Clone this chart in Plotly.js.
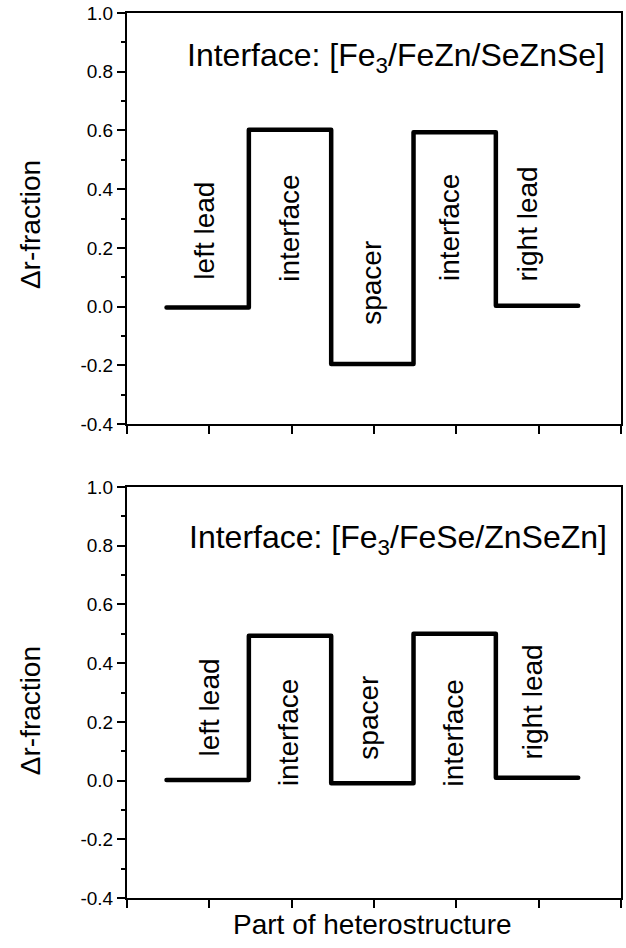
<!DOCTYPE html>
<html>
<head>
<meta charset="utf-8">
<script src="https://cdn.plot.ly/plotly-3.0.1.min.js"></script>
<style>html,body{margin:0;padding:0;background:#fff;}#chart{width:626px;height:948px;}</style>
</head>
<body>
<div id="chart"></div>
<script>
// ---- data ----
const xEdges = [0.48, 1.48, 2.48, 3.48, 4.48, 5.48];
const topLevels = [-0.003, 0.602, -0.196, 0.594, 0.003];
const bottomLevels = [0.002, 0.493, -0.009, 0.5, 0.01];
const partNames = ["left lead", "interface", "spacer", "interface", "right lead"];
const topLabelX = [0.94, 1.98, 2.96, 3.92, 4.86];
const topLabelY = [0.26, 0.265, 0.08, 0.27, 0.28];
const bottomLabelX = [1.0, 1.96, 2.93, 3.97, 4.92];
const bottomLabelY = [0.25, 0.163, 0.215, 0.163, 0.266];
const topTitle = "Interface: [Fe<sub>3</sub>/FeZn/SeZnSe]";
const bottomTitle = "Interface: [Fe<sub>3</sub>/FeSe/ZnSeZn]";
const yTickVals = [-0.4, -0.2, 0.0, 0.2, 0.4, 0.6, 0.8, 1.0];
const yTickText = ["-0.4", "-0.2", "0.0", "0.2", "0.4", "0.6", "0.8", "1.0"];
const xTickVals = [0, 1, 2, 3, 4, 5, 6];
const yLabel = "\u0394r-fraction";
const xLabel = "Part of heterostructure";

const FONT = "Liberation Sans, Arial, Helvetica, sans-serif";

function stepY(levels) { return levels.concat([levels[levels.length - 1]]); }

const traces = [
  { x: xEdges, y: stepY(topLevels), xaxis: 'x', yaxis: 'y', mode: 'lines',
    line: { shape: 'hv', color: '#000', width: 4.5 }, showlegend: false, hoverinfo: 'skip' },
  { x: xEdges, y: stepY(bottomLevels), xaxis: 'x2', yaxis: 'y2', mode: 'lines',
    line: { shape: 'hv', color: '#000', width: 4.5 }, showlegend: false, hoverinfo: 'skip' }
];

function xAx(anchor) {
  return {
    anchor: anchor, domain: [0, 1], range: [0, 6], showgrid: false, zeroline: false,
    showline: true, linewidth: 2, linecolor: '#000', mirror: true,
    tickmode: 'array', tickvals: xTickVals, showticklabels: false,
    ticks: 'outside', ticklen: 8, tickwidth: 2, tickcolor: '#000'
  };
}
function yAx(anchor, domain) {
  return {
    anchor: anchor, domain: domain, range: [-0.4, 1.0], showgrid: false, zeroline: false,
    showline: true, linewidth: 2, linecolor: '#000', mirror: true,
    tickmode: 'array', tickvals: yTickVals, ticktext: yTickText,
    ticks: 'outside', ticklen: 8, tickwidth: 2, tickcolor: '#000',
    tickfont: { family: FONT, size: 19, color: '#000' },
    minor: { tickmode: 'linear', tick0: 0, dtick: 0.1, ticks: 'outside', ticklen: 4, tickwidth: 2, tickcolor: '#000' }
  };
}

const annotations = [];
partNames.forEach((name, i) => {
  annotations.push({ x: topLabelX[i], y: topLabelY[i], xref: 'x', yref: 'y', text: name,
    textangle: -90, showarrow: false, xanchor: 'center', yanchor: 'middle',
    font: { family: FONT, size: 28, color: '#000' } });
  annotations.push({ x: bottomLabelX[i], y: bottomLabelY[i], xref: 'x2', yref: 'y2', text: name,
    textangle: -90, showarrow: false, xanchor: 'center', yanchor: 'middle',
    font: { family: FONT, size: 28, color: '#000' } });
});
annotations.push({ x: 3.27, y: 0.85, xref: 'x', yref: 'y', text: topTitle, showarrow: false,
  xanchor: 'center', yanchor: 'middle', font: { family: FONT, size: 32, color: '#000' } });
annotations.push({ x: 3.29, y: 0.82, xref: 'x2', yref: 'y2', text: bottomTitle, showarrow: false,
  xanchor: 'center', yanchor: 'middle', font: { family: FONT, size: 32, color: '#000' } });
annotations.push({ x: -0.194, y: 0.7605, xref: 'paper', yref: 'paper', text: yLabel, textangle: -90,
  showarrow: false, xanchor: 'center', yanchor: 'middle', font: { family: FONT, size: 28, color: '#000' } });
annotations.push({ x: -0.194, y: 0.2113, xref: 'paper', yref: 'paper', text: yLabel, textangle: -90,
  showarrow: false, xanchor: 'center', yanchor: 'middle', font: { family: FONT, size: 28, color: '#000' } });
annotations.push({ x: 0.496, y: -0.0305, xref: 'paper', yref: 'paper', text: xLabel,
  showarrow: false, xanchor: 'center', yanchor: 'middle', font: { family: FONT, size: 28, color: '#000' } });

const layout = {
  width: 626, height: 948,
  margin: { l: 127, r: 5, t: 13, b: 50 },
  paper_bgcolor: '#fff', plot_bgcolor: '#fff',
  showlegend: false,
  font: { family: FONT, color: '#000' },
  xaxis: xAx('y'),
  yaxis: yAx('x', [0.5356, 1]),
  xaxis2: xAx('y2'),
  yaxis2: yAx('x2', [0, 0.4644]),
  annotations: annotations
};

Plotly.newPlot('chart', traces, layout, { staticPlot: true, displayModeBar: false }).then(function (gd) {
  gd.querySelectorAll('.scatterlayer path.js-line').forEach(function (p) {
    p.style.strokeLinecap = 'round';
    p.style.strokeLinejoin = 'round';
  });
});
</script>
</body>
</html>
